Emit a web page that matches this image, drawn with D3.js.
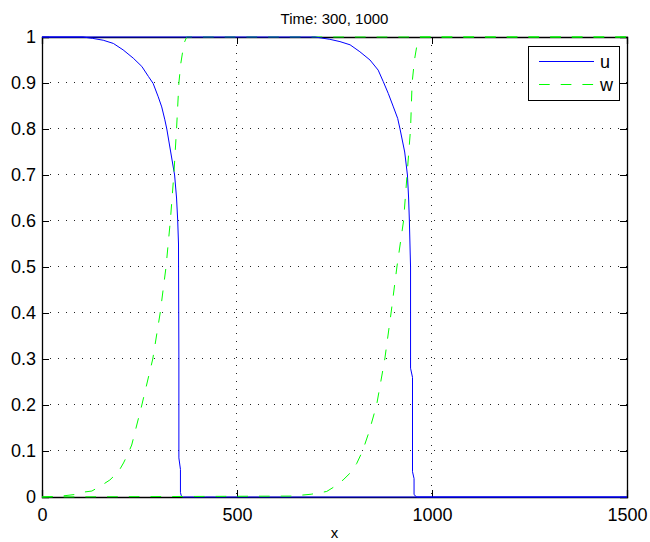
<!DOCTYPE html>
<html>
<head>
<meta charset="utf-8">
<script src="https://cdn.jsdelivr.net/npm/d3@7"></script>
<style>
  body { margin: 0; background: #fff; }
  svg { display: block; font-family: "Liberation Sans", Arial, Helvetica, sans-serif; }
</style>
</head>
<body>
<svg id="mainSvg" width="650" height="542"></svg>
<script>
// values, [x, value]
let u300 = [[0, 1], [105, 1], [130, 0.997], [157, 0.993], [183, 0.986], [208, 0.972], [234, 0.954],
    [256, 0.936], [273, 0.914], [285, 0.899], [298, 0.87], [307, 0.848], [315, 0.82], [320, 0.8],
    [330, 0.75], [340, 0.7], [345, 0.65], [348, 0.6], [350, 0.55], [351, 0.3], [351, 0.085],
    [355, 0.06], [355, 0.01], [357, 0.003], [361, 0], [1500, 0]]
let w300 = [[0, 0], [50, 0.002], [90, 0.006], [110, 0.011], [128, 0.013], [154, 0.026], [174, 0.037],
    [196, 0.055], [209, 0.074], [221, 0.095], [230, 0.113], [256, 0.2], [284, 0.3], [303, 0.4],
    [318, 0.5], [329, 0.6], [338, 0.7], [345, 0.8], [351, 0.9], [356, 0.943], [364, 0.986],
    [371, 1], [1500, 1]]
let u1000 = [[0, 1], [700, 1], [738, 0.995], [764, 0.99], [790, 0.983], [815, 0.968], [841, 0.95],
    [862, 0.928], [875, 0.903], [888, 0.877], [901, 0.848], [912, 0.823], [918, 0.8], [930, 0.75],
    [937, 0.7], [940, 0.65], [942, 0.6], [945, 0.5], [945, 0.28], [950, 0.26], [950, 0.055],
    [954, 0.04], [954, 0.005], [961, 0], [1500, 0]]
let w1000 = [[0, 0], [640, 0.002], [690, 0.006], [730, 0.012], [747, 0.021], [772, 0.037],
    [790, 0.052], [807, 0.073], [822, 0.1], [838, 0.14], [858, 0.2], [879, 0.3], [895, 0.4],
    [910, 0.5], [927, 0.6], [936, 0.7], [945, 0.8], [949, 0.9], [955, 0.95], [962, 0.985],
    [969, 1], [1500, 1]]

let xTicks = [0, 500, 1000, 1500]
let yTicks = [0, 0.1, 0.2, 0.3, 0.4, 0.5, 0.6, 0.7, 0.8, 0.9, 1]
let legendNames = ['u', 'w']

let svg = d3.select('#mainSvg')
let width = 650, height = 542
let margin = {left: 42, right: 23, top: 37, bottom: 45}

let x = d3.scaleLinear().domain([0, 1500]).range([margin.left, width - margin.right])
let y = d3.scaleLinear().domain([0, 1]).range([height - margin.bottom, margin.top])

let styles = {
    u: {stroke: '#0000ff', dash: null},
    w: {stroke: '#00ff00', dash: '10.7,11'}
}

// * dotted grid
let grid = svg.append('g')
grid.selectAll('line.gx')
    .data(xTicks.slice(1, -1))
    .enter().append('line')
    .attr('x1', d => Math.round(x(d)) - 0.5).attr('x2', d => Math.round(x(d)) - 0.5)
    .attr('y1', y(1)).attr('y2', y(0))
grid.selectAll('line.gy')
    .data(yTicks.slice(1, -1))
    .enter().append('line')
    .attr('y1', d => Math.round(y(d)) - 0.5).attr('y2', d => Math.round(y(d)) - 0.5)
    .attr('x1', x(0)).attr('x2', x(1500))
grid.selectAll('line')
    .attr('stroke', '#222')
    .attr('stroke-width', 1)
    .attr('stroke-dasharray', '1,7')

// * axes, ticks on all four sides, pointing in
let axes = svg.append('g')
axes.append('g')
    .attr('transform', 'translate(0,' + y(0) + ')')
    .call(d3.axisBottom(x).tickValues(xTicks).tickSize(-7).tickPadding(11).tickFormat(d3.format('d')))
axes.append('g')
    .attr('transform', 'translate(0,' + y(1) + ')')
    .call(d3.axisTop(x).tickValues(xTicks).tickSize(-7).tickFormat(''))
axes.append('g')
    .attr('transform', 'translate(' + x(0) + ',0)')
    .call(d3.axisLeft(y).tickValues(yTicks).tickSize(-7).tickPadding(6).tickFormat(d => d3.format('')(d)))
axes.append('g')
    .attr('transform', 'translate(' + x(1500) + ',0)')
    .call(d3.axisRight(y).tickValues(yTicks).tickSize(-7).tickFormat(''))
axes.selectAll('.domain').attr('stroke', '#000').attr('stroke-width', 1.3)
axes.selectAll('.tick line').attr('stroke', '#000')
axes.selectAll('.tick text')
    .attr('fill', '#000')
    .style('font-size', '18px')
    .style('font-family', '"Liberation Sans", Arial, Helvetica, sans-serif')

// * curves, drawn in the order they were plotted
let line = d3.line().x(d => x(d[0])).y(d => y(d[1]))
let curves = [['u', u300], ['w', w300], ['u', u1000], ['w', w1000]]
svg.append('g')
    .selectAll('path')
    .data(curves)
    .enter()
    .append('path')
    .attr('d', d => line(d[1]))
    .attr('fill', 'none')
    .attr('stroke', d => styles[d[0]].stroke)
    .attr('stroke-width', 1)
    .attr('stroke-dasharray', d => styles[d[0]].dash)

// * title and x label
svg.append('text')
    .attr('x', (x(0) + x(1500)) / 2).attr('y', 24)
    .attr('text-anchor', 'middle')
    .style('font-size', '15px')
    .text('Time: 300, 1000')
svg.append('text')
    .attr('x', (x(0) + x(1500)) / 2).attr('y', 538)
    .attr('text-anchor', 'middle')
    .style('font-size', '15px')
    .text('x')

// * legend
let legend = svg.append('g')
legend.append('rect')
    .attr('x', 528.5).attr('y', 46.5)
    .attr('width', 91).attr('height', 54)
    .attr('fill', '#fff')
    .attr('stroke', '#000')
    .attr('stroke-width', 1)
let items = legend.selectAll('g.item')
    .data(legendNames)
    .enter().append('g')
    .attr('transform', (d, i) => 'translate(0,' + (61.5 + i * 23) + ')')
items.append('line')
    .attr('x1', 539).attr('x2', 594)
    .attr('stroke', d => styles[d].stroke)
    .attr('stroke-dasharray', d => styles[d].dash)
items.append('text')
    .attr('x', 600).attr('y', 6.5)
    .style('font-size', '18px')
    .text(d => d)
</script>
</body>
</html>
